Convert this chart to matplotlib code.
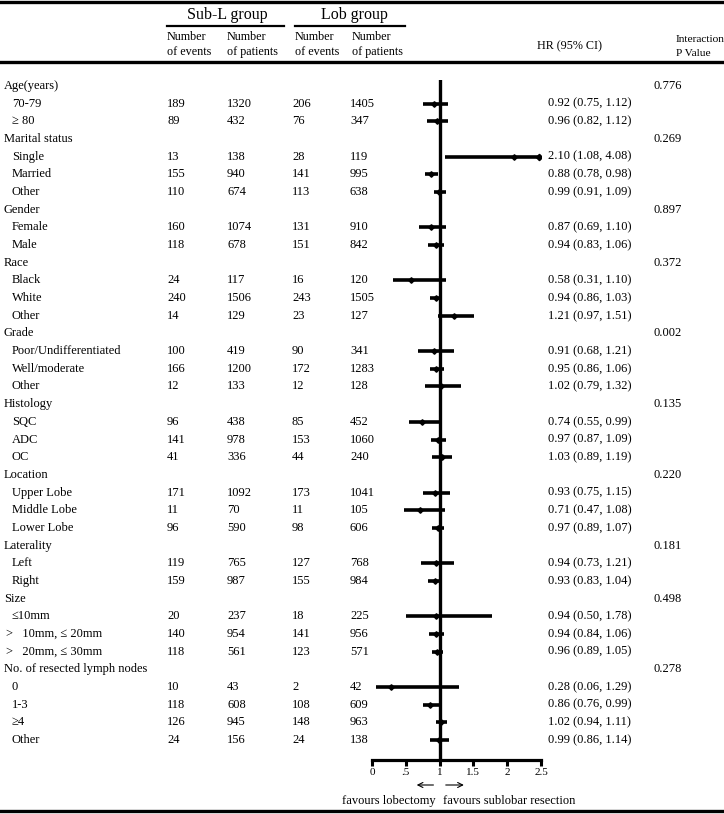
import matplotlib
matplotlib.use("Agg")
import matplotlib.pyplot as plt
import matplotlib.transforms as mtransforms
from matplotlib.lines import Line2D

plt.rcParams["font.family"] = ["Liberation Serif", "DejaVu Serif"]
plt.rcParams["font.size"] = 9

# ---- data -------------------------------------------------------------
group_names = ["Age(years)", "Marital status", "Gender", "Race", "Grade", "Histology",
               "Location", "Laterality", "Size", "No. of resected lymph nodes"]
group_pvalues = ["0.776", "0.269", "0.897", "0.372", "0.002", "0.135",
                 "0.220", "0.181", "0.498", "0.278"]
group_sizes = [2, 3, 2, 3, 3, 3, 3, 2, 3, 4]

sub_labels = ["70-79", "≥ 80",
              "Single", "Married", "Other",
              "Female", "Male",
              "Black", "White", "Other",
              "Poor/Undifferentiated", "Well/moderate", "Other",
              "SQC", "ADC", "OC",
              "Upper Lobe", "Middle Lobe", "Lower Lobe",
              "Left", "Right",
              "≤10mm", ">   10mm, ≤ 20mm", ">   20mm, ≤ 30mm",
              "0", "1-3", "≥4", "Other"]
sub_events = [189, 89, 13, 155, 110, 160, 118, 24, 240, 14, 100, 166, 12, 96, 141, 41,
              171, 11, 96, 119, 159, 20, 140, 118, 10, 118, 126, 24]
sub_patients = [1320, 432, 138, 940, 674, 1074, 678, 117, 1506, 129, 419, 1200, 133, 438,
                978, 336, 1092, 70, 590, 765, 987, 237, 954, 561, 43, 608, 945, 156]
lob_events = [206, 76, 28, 141, 113, 131, 151, 16, 243, 23, 90, 172, 12, 85, 153, 44,
              173, 11, 98, 127, 155, 18, 141, 123, 2, 108, 148, 24]
lob_patients = [1405, 347, 119, 995, 638, 910, 842, 120, 1505, 127, 341, 1283, 128, 452,
                1060, 240, 1041, 105, 606, 768, 984, 225, 956, 571, 42, 609, 963, 138]
hr = [0.92, 0.96, 2.10, 0.88, 0.99, 0.87, 0.94, 0.58, 0.94, 1.21, 0.91, 0.95, 1.02, 0.74,
      0.97, 1.03, 0.93, 0.71, 0.97, 0.94, 0.93, 0.94, 0.94, 0.96, 0.28, 0.86, 1.02, 0.99]
ci_low = [0.75, 0.82, 1.08, 0.78, 0.91, 0.69, 0.83, 0.31, 0.86, 0.97, 0.68, 0.86, 0.79, 0.55,
          0.87, 0.89, 0.75, 0.47, 0.89, 0.73, 0.83, 0.50, 0.84, 0.89, 0.06, 0.76, 0.94, 0.86]
ci_high = [1.12, 1.12, 4.08, 0.98, 1.09, 1.10, 1.06, 1.10, 1.03, 1.51, 1.21, 1.06, 1.32, 0.99,
           1.09, 1.19, 1.15, 1.08, 1.07, 1.21, 1.04, 1.78, 1.06, 1.05, 1.29, 0.99, 1.11, 1.14]

x_ticks = [0, 0.5, 1, 1.5, 2, 2.5]
x_tick_labels = ["0", ".5", "1", "1.5", "2", "2.5"]

# ---- layout (pixels of the 724x814 canvas) ----------------------------
W, H = 724, 814
ROW0, STEP = 86, 17.68


def fx(px):
    return px / W


def fy(py):
    return 1 - py / H


fig = plt.figure(figsize=(W / 100, H / 100), dpi=100)
ax = fig.add_axes([fx(372), fy(760), fx(541) - fx(372), (760 - 80) / H])
ax.set_xlim(x_ticks[0], x_ticks[-1])
n_rows = len(group_names) + len(sub_labels)
ax.set_ylim(n_rows - 1 + (760 - 740) / STEP, -(ROW0 - 80) / STEP)

row_tr = mtransforms.blended_transform_factory(fig.transFigure, ax.transData)

row = 0
k = 0
for g, name in enumerate(group_names):
    ax.text(fx(4), row, name, transform=row_tr, va="center", ha="left")
    ax.text(fx(653), row, group_pvalues[g], transform=row_tr, va="center", ha="left")
    row += 1
    for _ in range(group_sizes[g]):
        lab = sub_labels[k]
        ax.text(fx(6 if lab.startswith(">") else 12), row, lab, transform=row_tr,
                va="center", ha="left")
        for xp, val in zip((167, 227, 292, 350),
                           (sub_events[k], sub_patients[k], lob_events[k], lob_patients[k])):
            ax.text(fx(xp), row, str(val), transform=row_tr, va="center", ha="left")
        ax.text(fx(548), row, f"{hr[k]:.2f} ({ci_low[k]:.2f}, {ci_high[k]:.2f})",
                transform=row_tr, va="center", ha="left")

        lo = max(ci_low[k], x_ticks[0])
        hi = min(ci_high[k], x_ticks[-1] - 0.03)
        ax.plot([lo, hi], [row, row], color="black", lw=2.6, solid_capstyle="butt",
                zorder=3)
        ax.plot(hr[k], row, marker="D", ms=2.8, color="black", zorder=4)
        if ci_high[k] > x_ticks[-1]:
            ax.plot(hi, row, marker="D", ms=3.2, color="black", zorder=4)
        row += 1
        k += 1

ax.axvline(1, color="black", lw=2.4, zorder=2)
for side in ("top", "left", "right"):
    ax.spines[side].set_visible(False)
ax.spines["bottom"].set_linewidth(2.3)
ax.set_yticks([])
ax.set_xticks(x_ticks)
ax.set_xticklabels(x_tick_labels)
ax.tick_params(axis="x", direction="out", length=4, width=2.2, labelsize=8, pad=2)
ax.patch.set_visible(False)

# favours arrows + captions under the axis
ax_h = 760 - 80
arrow_y = -(785 - 760) / ax_h
xtr = ax.get_xaxis_transform()
ax.annotate("", xy=(0.62, arrow_y), xytext=(0.95, arrow_y), xycoords=xtr,
            arrowprops=dict(arrowstyle="->", lw=0.8, color="black"))
ax.annotate("", xy=(1.40, arrow_y), xytext=(1.05, arrow_y), xycoords=xtr,
            arrowprops=dict(arrowstyle="->", lw=0.8, color="black"))
cap_y = -(801 - 760) / ax_h
ax.text(0.94, cap_y, "favours lobectomy", transform=xtr, ha="right", va="center", fontsize=9)
ax.text(1.05, cap_y, "favours sublobar resection", transform=xtr, ha="left", va="center",
        fontsize=9)

# ---- header -----------------------------------------------------------
fig.text(fx(227), fy(15), "Sub-L group", ha="center", va="center", fontsize=11.5)
fig.text(fx(354), fy(15), "Lob group", ha="center", va="center", fontsize=11.5)
for xp, top in ((167, "Number"), (227, "Number"), (295, "Number"), (352, "Number")):
    fig.text(fx(xp), fy(37), top, ha="left", va="center", fontsize=8.7)
for xp, bottom in ((167, "of events"), (227, "of patients"), (295, "of events"),
                   (352, "of patients")):
    fig.text(fx(xp), fy(52), bottom, ha="left", va="center", fontsize=8.7)
fig.text(fx(537), fy(46), "HR (95% CI)", ha="left", va="center", fontsize=8.7)
fig.text(fx(676), fy(39), "Interaction", ha="left", va="center", fontsize=8.2)
fig.text(fx(676), fy(53), "P Value", ha="left", va="center", fontsize=8.2)

# rules
for x0, x1, yp, lw in ((0, 724, 2, 2.4), (0, 724, 62, 2.4), (0, 724, 811, 2.4),
                       (167, 284, 26, 1.6), (295, 405, 26, 1.6)):
    fig.add_artist(Line2D([fx(x0), fx(x1)], [fy(yp), fy(yp)], color="black", lw=lw,
                          transform=fig.transFigure))

fig.savefig("out.png", dpi=100)
